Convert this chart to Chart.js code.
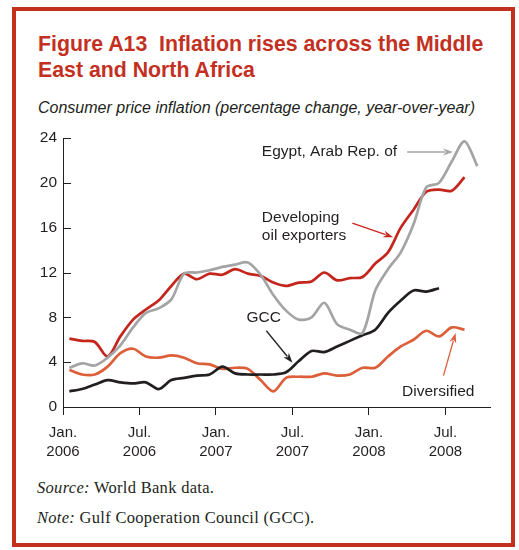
<!DOCTYPE html>
<html>
<head>
<meta charset="utf-8">
<script src="https://cdn.jsdelivr.net/npm/chart.js@4"></script>
<style>
  body { margin: 0; background: #fff; width: 519px; height: 550px; position: relative; overflow: hidden; }
  #frame { position: absolute; left: 12px; top: 7px; width: 495px; height: 532px; border: 4px solid #c3301f; }
  #title { position: absolute; left: 38px; top: 31px; font: bold 21.3px "Liberation Sans", Arial, sans-serif; line-height: 26px; color: #c3301f; white-space: pre; }
  #subtitle { position: absolute; left: 38px; top: 99px; font: italic 16px "Liberation Sans", Arial, sans-serif; line-height: 18px; color: #231f20; }
  #notes { position: absolute; left: 37px; top: 473px; font: 16.5px "Liberation Serif", "Times New Roman", serif; letter-spacing: 0.3px; line-height: 30px; color: #231f20; }
  #chartBox { position: absolute; left: 14px; top: 120px; width: 490px; height: 340px; }
</style>
</head>
<body>
<div id="frame"></div>
<div id="title">Figure A13  Inflation rises across the Middle
East and North Africa</div>
<div id="subtitle">Consumer price inflation (percentage change, year-over-year)</div>
<div id="notes"><i>Source:</i> World Bank data.<br><i>Note:</i> Gulf Cooperation Council (GCC).</div>
<div id="chartBox"><canvas id="chart" width="490" height="340"></canvas></div>
<script>
// monthly data, Jan. 2006 = index 0
const egypt = [3.5, 3.9, 3.7, 4.4, 5.5, 7.1, 8.4, 8.8, 9.6, 11.9, 12.0, 12.2, 12.5, 12.7, 12.9, 11.8,
  10.0, 8.6, 7.8, 8.0, 9.3, 7.4, 6.9, 6.6, 10.4, 12.3, 13.8, 16.3, 19.6, 20.0, 21.9, 23.7, 21.5];
const oilExporters = [6.1, 5.9, 5.8, 4.5, 6.3, 7.8, 8.7, 9.5, 10.8, 11.9, 11.4, 11.9, 11.8, 12.3, 11.9, 11.7,
  11.1, 10.8, 11.1, 11.2, 12.0, 11.3, 11.5, 11.6, 12.8, 13.8, 16.0, 17.6, 19.2, 19.4, 19.3, 20.5];
const gcc = [1.4, 1.6, 2.0, 2.4, 2.2, 2.1, 2.2, 1.6, 2.4, 2.6, 2.8, 2.9, 3.6, 3.0, 2.9, 2.9,
  2.9, 3.1, 4.1, 5.0, 4.9, 5.4, 5.9, 6.4, 6.9, 8.4, 9.5, 10.4, 10.3, 10.6];
const diversified = [3.3, 2.9, 2.9, 3.6, 4.8, 5.2, 4.5, 4.4, 4.6, 4.4, 3.9, 3.8, 3.4, 3.5, 3.4, 2.4,
  1.4, 2.6, 2.7, 2.7, 3.0, 2.8, 2.9, 3.5, 3.5, 4.5, 5.4, 6.0, 6.8, 6.3, 7.1, 6.9];

const tickMonths = [0, 6, 12, 18, 24, 30];
const tickLabels = [['Jan.', '2006'], ['Jul.', '2006'], ['Jan.', '2007'], ['Jul.', '2007'], ['Jan.', '2008'], ['Jul.', '2008']];
const yTicks = [0, 4, 8, 12, 16, 20, 24];

// labels and arrows, in data units (month, percent)
const notes = [
  {text: ['Egypt, Arab Rep. of'], at: [15.6, 22.75], from: [27.0, 22.75], to: [30.6, 22.75], color: '#a2a4a6'},
  {text: ['Developing', 'oil exporters'], at: [15.6, 16.9], from: [22.7, 16.4], to: [25.9, 15.15], color: '#c4261d'},
  {text: ['GCC'], at: [14.4, 7.95], from: [15.95, 6.8], to: [18.0, 3.95], color: '#231f20'},
  {text: ['Diversified'], at: [26.6, 1.35], from: [29.85, 2.8], to: [30.8, 6.6], color: '#dd5f3a'},
];

const ink = '#231f20';
const toPoints = arr => arr.map((v, i) => ({x: i + 0.5, y: v}));

function series(label, data, color) {
  return {
    label: label,
    data: toPoints(data),
    borderColor: color,
    borderWidth: 2.7,
    pointRadius: 0,
    tension: 0.3,
    fill: false,
  };
}

const annotate = {
  id: 'annotate',
  afterDraw(chart) {
    const ctx = chart.ctx;
    const xs = chart.scales.x, ys = chart.scales.y;
    const area = chart.chartArea;
    // inward ticks on the y axis
    ctx.save();
    ctx.strokeStyle = ink;
    ctx.lineWidth = 1;
    yTicks.forEach(v => {
      const y = Math.round(ys.getPixelForValue(v)) + 0.5;
      ctx.beginPath();
      ctx.moveTo(area.left, y);
      ctx.lineTo(area.left + 8, y);
      ctx.stroke();
    });
    ctx.font = '15.5px "Liberation Sans", Arial, sans-serif';
    ctx.textBaseline = 'middle';
    ctx.fillStyle = ink;
    notes.forEach(n => {
      const tx = xs.getPixelForValue(n.at[0]);
      const ty = ys.getPixelForValue(n.at[1]);
      n.text.forEach((line, k) => ctx.fillText(line, tx, ty + k * 18));
      const x1 = xs.getPixelForValue(n.from[0]), y1 = ys.getPixelForValue(n.from[1]);
      const x2 = xs.getPixelForValue(n.to[0]), y2 = ys.getPixelForValue(n.to[1]);
      const ang = Math.atan2(y2 - y1, x2 - x1);
      const len = 10, half = 3.5;
      ctx.strokeStyle = n.color;
      ctx.fillStyle = n.color;
      ctx.lineWidth = 1.3;
      ctx.beginPath();
      ctx.moveTo(x1, y1);
      ctx.lineTo(x2 - Math.cos(ang) * len * 0.8, y2 - Math.sin(ang) * len * 0.8);
      ctx.stroke();
      ctx.beginPath();
      ctx.moveTo(x2, y2);
      ctx.lineTo(x2 - Math.cos(ang) * len - Math.sin(ang) * half, y2 - Math.sin(ang) * len + Math.cos(ang) * half);
      ctx.lineTo(x2 - Math.cos(ang) * len * 0.7, y2 - Math.sin(ang) * len * 0.7);
      ctx.lineTo(x2 - Math.cos(ang) * len + Math.sin(ang) * half, y2 - Math.sin(ang) * len - Math.cos(ang) * half);
      ctx.closePath();
      ctx.fill();
      ctx.fillStyle = ink;
    });
    ctx.restore();
  }
};

new Chart(document.getElementById('chart'), {
  type: 'line',
  data: {
    datasets: [
      series('Egypt, Arab Rep. of', egypt, '#a2a4a6'),
      series('Developing oil exporters', oilExporters, '#c4261d'),
      series('GCC', gcc, '#231f20'),
      series('Diversified', diversified, '#dd5f3a'),
    ],
  },
  options: {
    responsive: false,
    animation: false,
    layout: {padding: {top: 18, right: 14, left: 0, bottom: 0}},
    plugins: {legend: {display: false}, tooltip: {enabled: false}},
    scales: {
      x: {
        type: 'linear',
        min: 0,
        max: 33.5,
        afterFit: s => { s.height = 53; },
        afterBuildTicks: s => { s.ticks = tickMonths.map(v => ({value: v})); },
        grid: {drawOnChartArea: false, drawTicks: true, tickLength: 8, color: ink},
        border: {display: true, color: ink, width: 1},
        ticks: {
          color: ink,
          padding: 8,
          maxRotation: 0,
          font: {family: '"Liberation Sans", Arial, sans-serif', size: 15, lineHeight: 1.27},
          callback: v => tickLabels[tickMonths.indexOf(v)],
        },
      },
      y: {
        min: 0,
        max: 24,
        afterFit: s => { s.width = 49; },
        afterBuildTicks: s => { s.ticks = yTicks.map(v => ({value: v})); },
        grid: {display: true, drawOnChartArea: false, drawTicks: false, tickLength: 0},
        border: {display: true, color: ink, width: 1},
        ticks: {
          color: ink,
          padding: 6,
          font: {family: '"Liberation Sans", Arial, sans-serif', size: 15.5},
        },
      },
    },
  },
  plugins: [annotate],
});
</script>
</body>
</html>
